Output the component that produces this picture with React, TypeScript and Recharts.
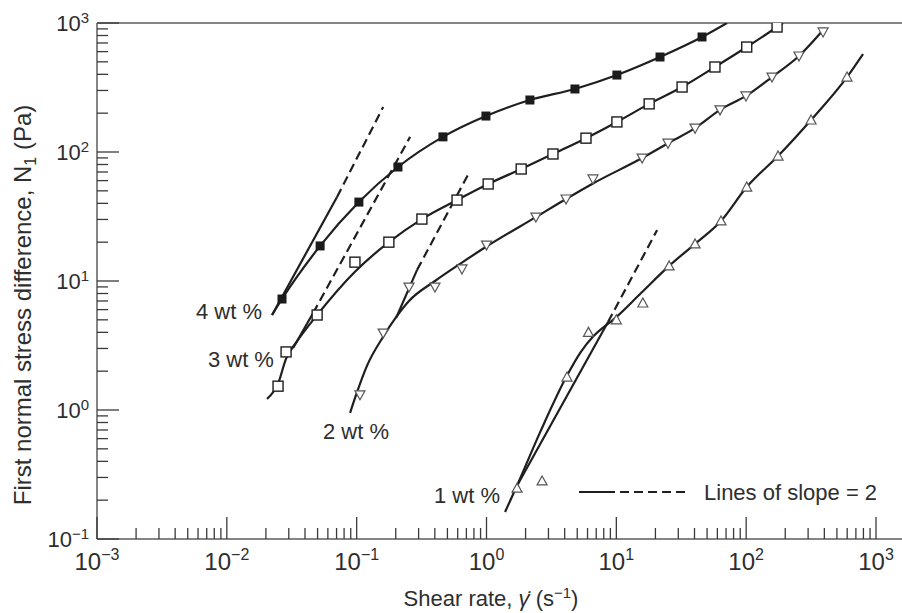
import React from 'react';
import { ComposedChart, Line, Scatter, XAxis, YAxis, ReferenceLine, Customized } from 'recharts';

// ---------- data ----------
// 4 wt % (filled squares)
const wt4Points = [
  { x: 0.0266, y: 7.25 }, { x: 0.0523, y: 18.7 }, { x: 0.104, y: 40.9 }, { x: 0.208, y: 76.5 },
  { x: 0.462, y: 131 }, { x: 0.99, y: 190 }, { x: 2.16, y: 253 }, { x: 4.8, y: 308 },
  { x: 10.1, y: 395 }, { x: 21.7, y: 545 }, { x: 45.7, y: 779 },
];
const wt4Curve = [
  { x: 0.0223, y: 5.45 }, { x: 0.0266, y: 7.25 }, { x: 0.0523, y: 18.7 }, { x: 0.104, y: 40.9 },
  { x: 0.208, y: 76.5 }, { x: 0.462, y: 131 }, { x: 0.99, y: 190 }, { x: 2.16, y: 253 },
  { x: 4.8, y: 308 }, { x: 10.1, y: 395 }, { x: 21.7, y: 545 }, { x: 45.7, y: 779 }, { x: 71.2, y: 1000 },
];
const wt4SlopeSolid = [{ x: 0.0223, y: 5.45 }, { x: 0.0706, y: 44.8 }];
const wt4SlopeDashed = [{ x: 0.0706, y: 44.8 }, { x: 0.16, y: 223 }];

// 3 wt % (open squares)
const wt3Points = [
  { x: 0.0248, y: 1.53 }, { x: 0.0286, y: 2.82 }, { x: 0.0496, y: 5.45 }, { x: 0.097, y: 14.0 },
  { x: 0.177, y: 20.0 }, { x: 0.318, y: 30.2 }, { x: 0.593, y: 42.4 }, { x: 1.03, y: 56.5 },
  { x: 1.85, y: 73.8 }, { x: 3.25, y: 96.5 }, { x: 5.84, y: 128 }, { x: 10.1, y: 171 },
  { x: 17.9, y: 236 }, { x: 32.1, y: 319 }, { x: 57.5, y: 456 }, { x: 101, y: 651 }, { x: 173, y: 931 },
];
const wt3Curve = [
  { x: 0.0204, y: 1.22 }, { x: 0.0248, y: 1.6 }, { x: 0.0286, y: 2.5 }, { x: 0.0347, y: 3.4 },
  { x: 0.0496, y: 5.45 }, { x: 0.097, y: 11.8 }, { x: 0.177, y: 20.0 }, { x: 0.318, y: 30.2 },
  { x: 0.593, y: 42.4 }, { x: 1.03, y: 56.5 }, { x: 1.85, y: 73.8 }, { x: 3.25, y: 96.5 },
  { x: 5.84, y: 128 }, { x: 10.1, y: 171 }, { x: 17.9, y: 236 }, { x: 32.1, y: 319 },
  { x: 57.5, y: 456 }, { x: 101, y: 651 }, { x: 173, y: 931 }, { x: 192, y: 1000 },
];
const wt3SlopeSolid = [{ x: 0.0324, y: 3.02 }, { x: 0.0462, y: 5.65 }];
const wt3SlopeDashed = [{ x: 0.0462, y: 5.65 }, { x: 0.258, y: 131 }];

// 2 wt % (open down-triangles)
const wt2Points = [
  { x: 0.106, y: 1.31 }, { x: 0.16, y: 3.95 }, { x: 0.253, y: 8.98 }, { x: 0.401, y: 8.98 },
  { x: 0.647, y: 12.4 }, { x: 1.0, y: 19.0 }, { x: 2.4, y: 31.3 }, { x: 4.1, y: 43.2 },
  { x: 6.61, y: 61.8 }, { x: 15.8, y: 89.8 }, { x: 25.0, y: 117 }, { x: 40.4, y: 153 },
  { x: 62.9, y: 212 }, { x: 99.7, y: 272 }, { x: 158, y: 381 }, { x: 255, y: 555 }, { x: 391, y: 852 },
];
const wt2Curve = [
  { x: 0.089, y: 0.95 }, { x: 0.1, y: 1.35 }, { x: 0.12, y: 2.2 }, { x: 0.16, y: 3.7 },
  { x: 0.2, y: 5.2 }, { x: 0.253, y: 7.0 }, { x: 0.401, y: 10.0 }, { x: 0.647, y: 13.9 },
  { x: 1.0, y: 18.5 }, { x: 2.4, y: 31.3 }, { x: 4.1, y: 43.2 }, { x: 6.61, y: 57 },
  { x: 15.8, y: 89.8 }, { x: 25.0, y: 117 }, { x: 40.4, y: 153 }, { x: 62.9, y: 212 },
  { x: 99.7, y: 272 }, { x: 158, y: 381 }, { x: 255, y: 555 }, { x: 404, y: 915 },
];
const wt2SlopeSolid = [{ x: 0.201, y: 5.16 }, { x: 0.292, y: 12.2 }];
const wt2SlopeDashed = [{ x: 0.292, y: 12.2 }, { x: 0.733, y: 68.8 }];

// 1 wt % (open up-triangles)
const wt1Points = [
  { x: 1.72, y: 0.248 }, { x: 2.68, y: 0.282 }, { x: 4.17, y: 1.8 }, { x: 6.1, y: 4.0 },
  { x: 10.0, y: 5.0 }, { x: 16.0, y: 6.75 }, { x: 25.5, y: 13.1 }, { x: 40.4, y: 19.4 },
  { x: 64, y: 29.2 }, { x: 101, y: 53.5 }, { x: 176, y: 93 }, { x: 316, y: 177 }, { x: 598, y: 381 },
];
const wt1Curve = [
  { x: 1.39, y: 0.162 }, { x: 1.72, y: 0.26 }, { x: 2.6, y: 0.68 }, { x: 4.17, y: 1.85 },
  { x: 5.3, y: 2.8 }, { x: 6.6, y: 3.7 }, { x: 8.0, y: 4.4 }, { x: 9.43, y: 5.0 }, { x: 15.5, y: 8.07 },
  { x: 25.5, y: 13.1 }, { x: 40.4, y: 19.4 }, { x: 64, y: 29.2 }, { x: 101, y: 53.5 },
  { x: 176, y: 93 }, { x: 316, y: 177 }, { x: 598, y: 381 }, { x: 794, y: 575 },
];
const wt1SlopeSolid = [{ x: 1.6, y: 0.227 }, { x: 8.63, y: 4.81 }];
const wt1SlopeDashed = [{ x: 8.63, y: 4.81 }, { x: 20.6, y: 24.8 }];

// annotation anchors (data coordinates) and texts
const seriesLabels = [
  { x: 0.01866, y: 5.07, text: '4 wt %' },
  { x: 0.02306, y: 2.15, text: '3 wt %' },
  { x: 0.1774, y: 0.596, text: '2 wt %' },
  { x: 1.27, y: 0.19, text: '1 wt %' },
];
const legendAnchor = [{ x: 5.16, y: 0.2313 }];
const legendText = 'Lines of slope = 2';

// axes
const decadeExponents = [-3, -2, -1, 0, 1, 2];
const minorMultipliers = [1, 2, 3, 4, 5, 6, 7, 8, 9];
const xTicks: number[] = [];
decadeExponents.forEach((e) => minorMultipliers.forEach((m) => xTicks.push(Number((m * Math.pow(10, e)).toPrecision(6)))));
xTicks.push(1000);
const yDecades = [-1, 0, 1, 2];
const yTicks: number[] = [];
yDecades.forEach((e) => minorMultipliers.forEach((m) => yTicks.push(Number((m * Math.pow(10, e)).toPrecision(6)))));
yTicks.push(1000);

const xTitle = 'Shear rate, ';
const yTitle = 'First normal stress difference, N';

// ---------- styling ----------
const FONT = '"Liberation Sans", Arial, Helvetica, sans-serif';
const TXT = '#2e2e2e';
const LINE = '#1f1f1f';
const AXIS = '#858585';

const isMajor = (v: number) => {
  const l = Math.log10(v);
  return Math.abs(l - Math.round(l)) < 1e-6;
};
const expText = (v: number) => {
  const e = Math.round(Math.log10(v));
  return e < 0 ? `\u2212${-e}` : `${e}`;
};

const XTick = (props: any) => {
  const { x, y, payload } = props;
  const v = payload.value;
  const major = isMajor(v);
  return (
    <g>
      <line x1={x} x2={x} y1={y} y2={y - (major ? 22 : 11)} stroke="#3a3a3a" strokeWidth={1.3} />
      {major && (
        <text x={x} y={y + 31} textAnchor="middle" fontFamily={FONT} fontSize={24} fill={TXT}>
          10<tspan dy={-10} fontSize={16}>{expText(v)}</tspan>
        </text>
      )}
    </g>
  );
};

const YTick = (props: any) => {
  const { x, y, payload } = props;
  const v = payload.value;
  const major = isMajor(v);
  return (
    <g>
      <line x1={x} x2={x + (major ? 22 : 11)} y1={y} y2={y} stroke="#3a3a3a" strokeWidth={1.3} />
      {major && (
        <text x={x - 8} y={y + 8} textAnchor="end" fontFamily={FONT} fontSize={22} fill={TXT}>
          10<tspan dy={-8} fontSize={15}>{expText(v)}</tspan>
        </text>
      )}
    </g>
  );
};

const FilledSquare = (p: any) => <rect x={p.cx - 4.5} y={p.cy - 4.5} width={9} height={9} fill="#1b1b1b" />;
const OpenSquare = (p: any) => (
  <rect x={p.cx - 5} y={p.cy - 5} width={10} height={10} fill="#fff" stroke="#1e1e1e" strokeWidth={1.4} />
);
const DownTri = (p: any) => (
  <polygon
    points={`${p.cx - 5},${p.cy - 4} ${p.cx + 5},${p.cy - 4} ${p.cx},${p.cy + 5}`}
    fill="#fff" stroke="#555" strokeWidth={1.2}
  />
);
const UpTri = (p: any) => (
  <polygon
    points={`${p.cx - 5},${p.cy + 4} ${p.cx + 5},${p.cy + 4} ${p.cx},${p.cy - 5}`}
    fill="#fff" stroke="#555" strokeWidth={1.2}
  />
);

const makeLabelShape = (text: string) => (p: any) => (
  <text x={p.cx} y={p.cy} textAnchor="end" fontFamily={FONT} fontSize={22} fill={TXT}>{text}</text>
);

const LegendShape = (p: any) => (
  <g>
    <line x1={p.cx} x2={p.cx + 109} y1={p.cy} y2={p.cy} stroke={LINE} strokeWidth={2.2}
      strokeDasharray="36 5 9 5 9 5 9 5 9 5 9 80" />
    <text x={p.cx + 125} y={p.cy + 8} fontFamily={FONT} fontSize={22} fill={TXT}>{legendText}</text>
  </g>
);

const Titles = () => (
  <g fontFamily={FONT} fill={TXT}>
    <text x={491} y={606} textAnchor="middle" fontSize={22}>
      {xTitle}<tspan fontStyle="italic">{'\u03B3\u0307'}</tspan> (s<tspan dy={-8} fontSize={15}>{'\u22121'}</tspan><tspan dy={8}>)</tspan>
    </text>
    <text x={31} y={305} transform="rotate(-90, 31, 305)" textAnchor="middle" fontSize={24}>
      {yTitle}<tspan dy={5} fontSize={16}>1</tspan><tspan dy={-5}> (Pa)</tspan>
    </text>
  </g>
);

const curveProps = { dataKey: 'y', dot: false, activeDot: false, isAnimationActive: false, stroke: LINE, strokeWidth: 2.2 } as const;

export default function App() {
  return (
    <div style={{ position: 'absolute', left: 0, top: 0, width: 902, height: 613, background: '#fff' }}>
      <ComposedChart width={902} height={613} margin={{ top: 23, right: 26, bottom: 0, left: 0 }}>
        <XAxis
          type="number" dataKey="x" scale="log" domain={[0.001, 1000]} allowDataOverflow
          ticks={xTicks} interval={0} tickSize={0} tickMargin={0} tickLine={false} axisLine={false}
          tick={<XTick />} height={74}
        />
        <YAxis
          type="number" dataKey="y" scale="log" domain={[0.1, 1000]} allowDataOverflow
          ticks={yTicks} interval={0} tickSize={0} tickMargin={0} tickLine={false}
          axisLine={{ stroke: AXIS, strokeWidth: 2 }} tick={<YTick />} width={97}
        />
        <ReferenceLine segment={[{ x: 0.001, y: 1000 }, { x: 5000, y: 1000 }]} stroke={AXIS} strokeWidth={2} ifOverflow="visible" />
        <ReferenceLine segment={[{ x: 0.001, y: 0.1 }, { x: 5000, y: 0.1 }]} stroke={AXIS} strokeWidth={2} ifOverflow="visible" />

        <Line data={wt4SlopeSolid} type="linear" {...curveProps} />
        <Line data={wt4SlopeDashed} type="linear" {...curveProps} strokeDasharray="9 5" />
        <Line data={wt3SlopeSolid} type="linear" {...curveProps} />
        <Line data={wt3SlopeDashed} type="linear" {...curveProps} strokeDasharray="9 5" />
        <Line data={wt2SlopeSolid} type="linear" {...curveProps} />
        <Line data={wt2SlopeDashed} type="linear" {...curveProps} strokeDasharray="9 5" />
        <Line data={wt1SlopeSolid} type="linear" {...curveProps} />
        <Line data={wt1SlopeDashed} type="linear" {...curveProps} strokeDasharray="9 5" />

        <Line data={wt4Curve} type="monotone" {...curveProps} />
        <Line data={wt3Curve} type="monotone" {...curveProps} />
        <Line data={wt2Curve} type="monotone" {...curveProps} />
        <Line data={wt1Curve} type="monotone" {...curveProps} />

        <Scatter data={wt4Points} shape={FilledSquare} isAnimationActive={false} />
        <Scatter data={wt3Points} shape={OpenSquare} isAnimationActive={false} />
        <Scatter data={wt2Points} shape={DownTri} isAnimationActive={false} />
        <Scatter data={wt1Points} shape={UpTri} isAnimationActive={false} />

        {seriesLabels.map((l) => (
          <Scatter key={l.text} data={[{ x: l.x, y: l.y }]} shape={makeLabelShape(l.text)} isAnimationActive={false} />
        ))}
        <Scatter data={legendAnchor} shape={LegendShape} isAnimationActive={false} />
        <Customized component={Titles} />
      </ComposedChart>
    </div>
  );
}
